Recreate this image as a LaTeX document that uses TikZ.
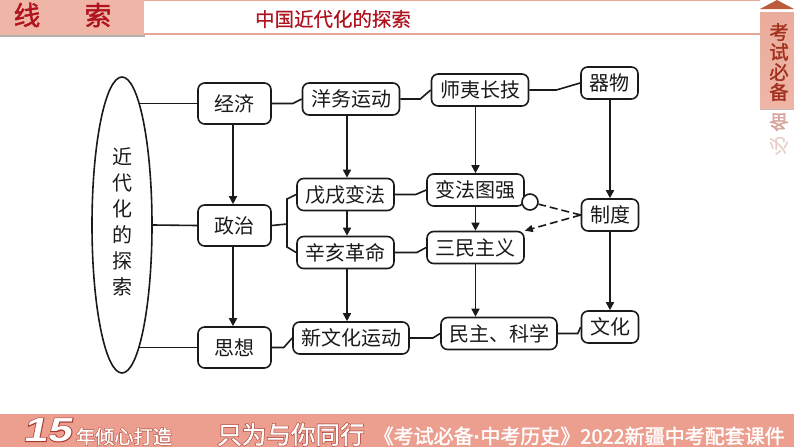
\documentclass[tikz,border=0pt]{standalone}
\usepackage{fontspec}
\usetikzlibrary{arrows.meta, shapes.geometric}
\setmainfont{Liberation Sans}
\newfontfamily\cjkfont{Noto Sans CJK SC}
\newfontfamily\cjksemi[FakeBold=0.5]{Noto Sans CJK SC}
\newfontfamily\cjkheavy[FakeBold=1.5]{Noto Sans CJK SC}
\newfontfamily\cjkoutline[FakeBold=6]{Noto Sans CJK SC}
\newfontfamily\numfont[FakeSlant=0.2,FakeStretch=1.3]{Liberation Sans Bold}
\newfontfamily\numoutline[FakeSlant=0.2,FakeStretch=1.3,FakeBold=5]{Liberation Sans Bold}
\newfontfamily\dotfont[FakeBold=1.5]{Liberation Sans Bold}
\definecolor{HeadPink}{HTML}{EFB5A6}
\definecolor{HeadLine}{HTML}{E3A996}
\definecolor{HeadRed}{HTML}{B0121E}
\definecolor{TabRed}{HTML}{A2321F}
\definecolor{TabDark}{HTML}{BC5A3C}
\definecolor{FootPink}{HTML}{EC9E8F}
\definecolor{FootRed}{HTML}{A8382C}
\definecolor{InkBlack}{HTML}{1A1A1A}
\def\pxu{0.75pt}
\tikzset{
    basebox/.style={draw=InkBlack, line width=1.2pt, rounded corners=5pt, inner sep=0pt, text=InkBlack, font=\cjkfont\fontsize{15}{15}\selectfont},
    widebox/.style={basebox, minimum width=97*\pxu, minimum height=32*\pxu},
    longbox/.style={basebox, minimum width=116*\pxu, minimum height=32*\pxu},
    smallbox/.style={basebox, minimum width=57*\pxu, minimum height=32*\pxu},
    tallbox/.style={basebox, minimum width=73*\pxu, minimum height=41*\pxu},
    link/.style={draw=InkBlack, line width=1.2pt},
    flow/.style={link, -{Triangle[length=8*\pxu, width=8*\pxu]}},
    crossdash/.style={link, dashed, dash pattern=on 6pt off 3pt}
}
\begin{document}
\begin{tikzpicture}[x=0.75pt, y=-0.75pt]
    \useasboundingbox (0,0) rectangle (794,447);

    % === HEADER ===
    \fill[white] (0,0) rectangle (794,447);
    \draw[HeadLine, line width=1pt] (144,0.5) -- (760,0.5);
    \draw[HeadLine, line width=1.2pt] (144,34) -- (760,34);
    \fill[gray!60] (0,35) rectangle (145,37);
    \fill[HeadPink] (0,0) rectangle (144,35);
    \node[text=HeadRed, font=\cjkheavy\fontsize{20}{20}\selectfont] (HeadA) at (27,15) {线};
    \node[text=HeadRed, font=\cjkheavy\fontsize{20}{20}\selectfont] (HeadB) at (98,15) {索};
    \node[text=HeadRed, font=\cjksemi\fontsize{14.6}{15}\selectfont] (HeadTitle) at (333,19) {中国近代化的探索};

    % === SIDE TAB ===
    \fill[gray!50] (760,108) rectangle (794,110);
    \shade[top color=HeadPink!90!TabDark, bottom color=HeadPink] (760,12) rectangle (794,108);
    \fill[TabDark] (760,9) -- (777,0) -- (794,9) -- cycle;
    \foreach \name/\ypos/\ch in {TabA/32/考, TabB/52/试, TabC/72/必, TabD/92/备} {
        \node[text=TabRed, font=\cjkheavy\fontsize{14.5}{15}\selectfont] (\name) at (779,\ypos) {\ch};
    }
    % faded mirror under the tab
    \node[yscale=-1, transform shape, text=TabRed, opacity=0.4, font=\cjksemi\fontsize{14.5}{15}\selectfont] (MirrorA) at (779,122) {备};
    \node[yscale=-1, transform shape, text=TabRed, opacity=0.2, font=\cjksemi\fontsize{14.5}{15}\selectfont] (MirrorB) at (779,146) {必};

    % === FOOTER ===
    \fill[FootPink] (0,414) rectangle (794,447);
    \node[inner sep=0pt, text=FootRed, font=\numoutline\fontsize{25}{25}\selectfont] (FootNumBack) at (47,430) {15};
    \node[inner sep=0pt, text=white, font=\numfont\fontsize{25}{25}\selectfont] (FootNum) at (47,430) {15};
    \node[inner sep=0pt, text=FootRed, font=\cjkoutline\fontsize{14.4}{15}\selectfont] (FootYearBack) at (124,436.5) {年倾心打造};
    \node[inner sep=0pt, text=white, font=\cjkheavy\fontsize{14.4}{15}\selectfont] (FootYear) at (124,436.5) {年倾心打造};
    \node[inner sep=0pt, text=FootRed, font=\cjkoutline\fontsize{18.4}{19}\selectfont] (FootMottoBack) at (291,434.5) {只为与你同行};
    \node[inner sep=0pt, text=white, font=\cjkheavy\fontsize{18.4}{19}\selectfont] (FootMotto) at (291,434.5) {只为与你同行};
    \node[anchor=east, inner sep=0pt, text=white, font=\cjkheavy\fontsize{15}{15}\selectfont] (FootTitle) at (785,436) {《考试必备{\dotfont ·}中考历史》2022新疆中考配套课件};

    % === LEFT ELLIPSE ===
    \node[ellipse, draw=InkBlack, line width=1.2pt, minimum width=60*\pxu, minimum height=296*\pxu, inner sep=0pt] (NodeMain) at (122,225) {};
    \node[align=center, text=InkBlack, font=\cjkfont\fontsize{15}{19.5}\selectfont] (NodeMainText) at (122,222) {近\\代\\化\\的\\探\\索};
    \coordinate (MainTop) at (139,103.5);
    \coordinate (MainBottom) at (139,347.5);

    % === BOXES ===
    \node[tallbox] (NodeEcon) at (234.5,103.5) {经济};
    \node[tallbox] (NodePol) at (234.5,225.5) {政治};
    \node[tallbox] (NodeIdea) at (234.5,347.5) {思想};

    \node[widebox] (NodeYangwu) at (351,99) {洋务运动};
    \node[widebox] (NodeWuxu) at (345.5,194.5) {戊戌变法};
    \node[widebox] (NodeXinhai) at (345.5,252.5) {辛亥革命};
    \node[longbox] (NodeNewCul) at (351,338) {新文化运动};

    \node[widebox] (NodeShiyi) at (480,90) {师夷长技};
    \node[widebox] (NodeBianfa) at (475.5,190) {变法图强};
    \node[widebox] (NodeSanmin) at (475.5,247.5) {三民主义};
    \node[longbox] (NodeDemo) at (499,333.5) {民主、科学};

    \node[smallbox] (NodeTool) at (609.5,83) {器物};
    \node[smallbox] (NodeSys) at (610,215) {制度};
    \node[smallbox] (NodeCul) at (610,327) {文化};

    \node[circle, draw=InkBlack, line width=1.2pt, fill=white, minimum size=16*\pxu, inner sep=0pt] (NodeLink) at (530,202) {};

    % === LINKS FROM ELLIPSE ===
    \draw[link] (MainTop) -- (NodeEcon.west);
    \draw[link] (NodeMain.east) -- (NodePol.west);
    \draw[link] (MainBottom) -- (NodeIdea.west);

    % === ROW LINKS ===
    \draw[link] (NodeEcon.east) -- ++(21,0) -- (NodeYangwu.west);
    \draw[link] (NodeYangwu.east) -- ++(20,0) -- (NodeShiyi.west);
    \draw[link] (NodeShiyi.east) -- ++(27,0) -- (NodeTool.west);
    \draw[link] (NodeWuxu.east) -- ++(21,0) -- (NodeBianfa.west);
    \draw[link] (NodeXinhai.east) -- ++(22,0) -- (NodeSanmin.west);
    \draw[link] (NodeIdea.east) -- ++(12,0) -- (NodeNewCul.west);
    \draw[link] (NodeNewCul.east) -- ++(23,0) -- (NodeDemo.west);
    \draw[link] (NodeDemo.east) -- ++(20,0) -- (NodeCul.west);

    % Fork from politics
    \coordinate (ForkMid) at (287,224);
    \draw[link] (NodePol.east) -- (ForkMid);
    \draw[link] (NodeWuxu.west) -- (287,199) -- (287,247) -- (NodeXinhai.west);

    % === DOWN ARROWS ===
    \draw[flow] (NodeEcon.south -| 233,0) -- (NodePol.north -| 233,0);
    \draw[flow] (NodePol.south -| 233,0) -- (NodeIdea.north -| 233,0);
    \draw[flow] (NodeYangwu.south -| 347,0) -- (NodeWuxu.north -| 347,0);
    \draw[flow] (NodeWuxu.south -| 347,0) -- (NodeXinhai.north -| 347,0);
    \draw[flow] (NodeXinhai.south -| 347,0) -- (NodeNewCul.north -| 347,0);
    \draw[flow] (NodeShiyi.south -| NodeBianfa) -- (NodeBianfa.north);
    \draw[flow] (NodeBianfa.south) -- (NodeSanmin.north);
    \draw[flow] (NodeSanmin.south) -- (NodeDemo.north -| NodeSanmin);
    \draw[flow] (NodeTool.south -| NodeSys) -- (NodeSys.north);
    \draw[flow] (NodeSys.south) -- (NodeCul.north);

    % === DASHED LINKS ===
    \draw[crossdash] (NodeSys.west) -- (NodeLink);
    \draw[crossdash, -{Triangle[length=8*\pxu, width=7*\pxu]}] (NodeSys.west) -- (NodeSanmin.north east);
\end{tikzpicture}
\end{document}
